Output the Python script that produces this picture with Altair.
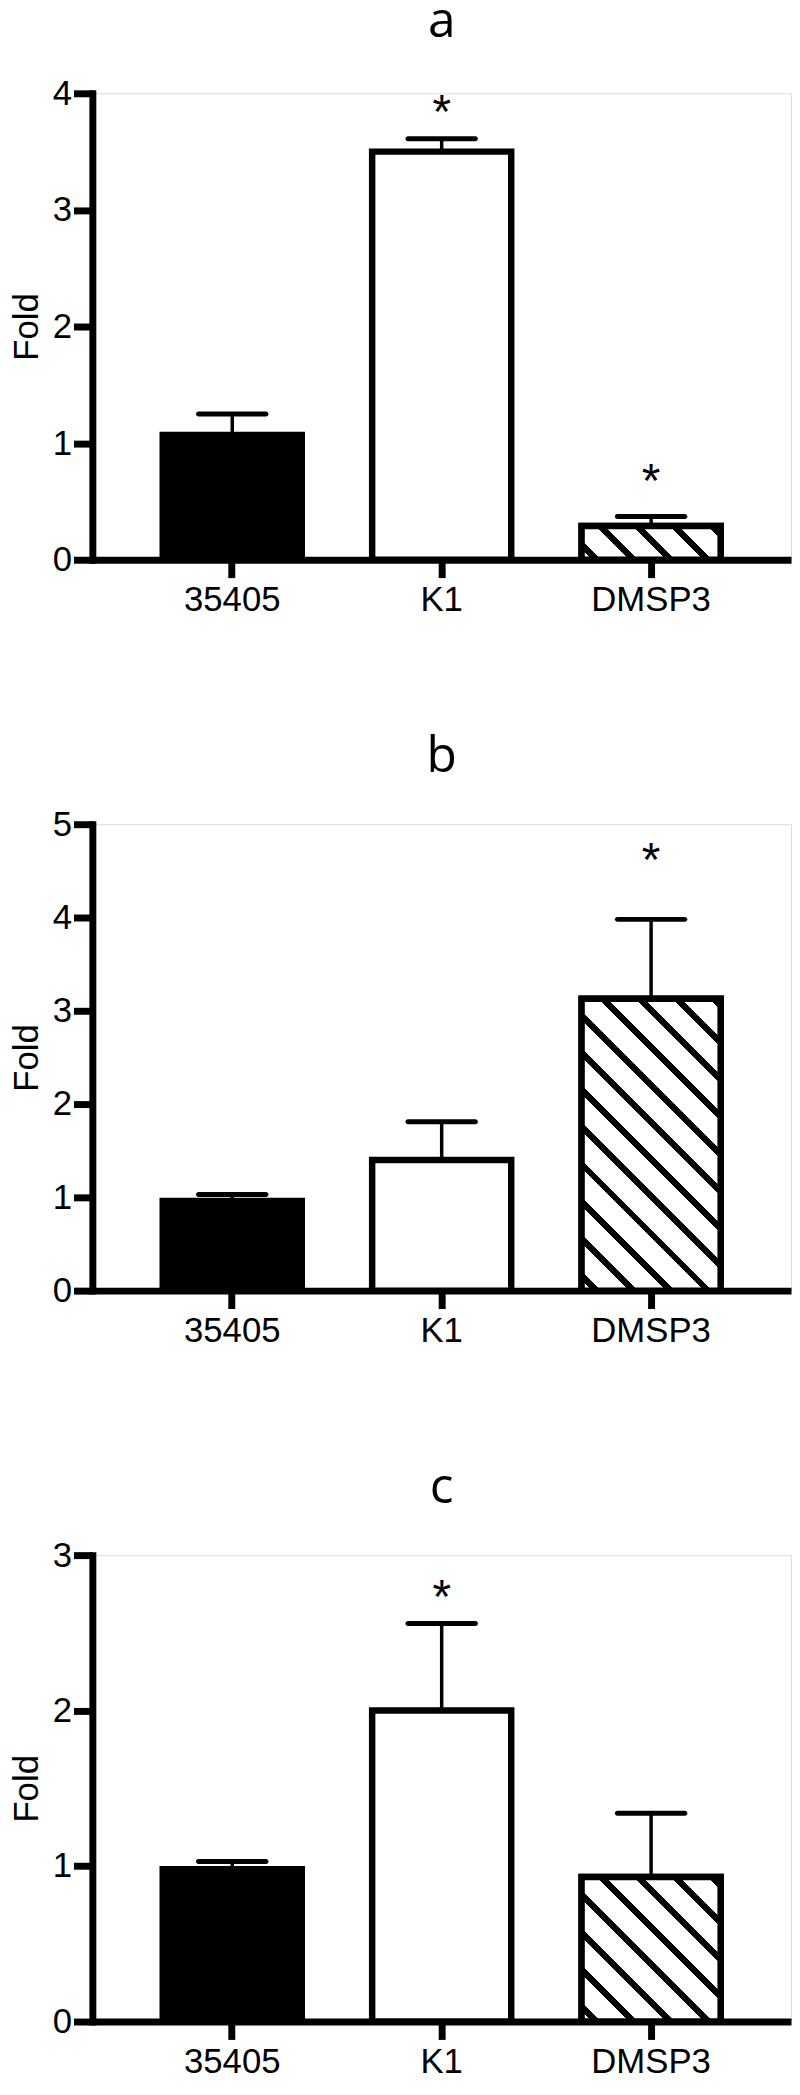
import math
import altair as alt
import pandas as pd

# ---------------- data ----------------
categories = ["35405", "K1", "DMSP3"]
fills = ["black", "white", "white"]

a_mean = [1.07, 3.50, 0.29]
a_err = [0.18, 0.11, 0.08]
a_star = [None, 3.91, 0.74]

b_mean = [0.96, 1.40, 3.13]
b_err = [0.07, 0.41, 0.85]
b_star = [None, None, 4.70]

c_mean = [0.98, 2.00, 0.93]
c_err = [0.05, 0.56, 0.41]
c_star = [None, 2.78, None]

panel_letters = ["a", "b", "c"]
y_max = [4, 5, 3]

# ---------------- layout / style ----------------
W = 704
H = 470
PI = 0.336
PO = 0.336
STEP = W / (3 - PI + 2 * PO)
BANDW = STEP * (1 - PI)
LABEL_FONT = "Liberation Sans"
TITLE_FONT = "Open Sans"


def hatch_gradient(bar_h, bar_w=BANDW, period=37.5, thick=9.0, phase=15.0):
    L = bar_w + bar_h
    d = bar_w * bar_w + bar_h * bar_h
    x2 = bar_w * L / d
    y2 = 1 - bar_h * L / d
    segs = []
    c = phase - period * math.ceil((phase + thick) / period)
    while c - thick / 2 < L:
        a = max(0.0, (c - thick / 2) / L)
        b = min(1.0, (c + thick / 2) / L)
        if b > 0 and a < 1 and b > a:
            segs.append((a, b))
        c += period
    stops = []
    prev = 0.0
    for a, b in segs:
        if a > prev:
            stops += [(prev, "white"), (a, "white")]
        stops += [(a, "black"), (b, "black")]
        prev = b
    if prev < 1:
        stops += [(prev, "white"), (1.0, "white")]
    return alt.LinearGradient(
        gradient="linear",
        x1=0, y1=1, x2=x2, y2=y2,
        stops=[alt.GradientStop(offset=o, color=col) for o, col in stops],
    )


def panel(letter, mean, err, star, ymax, title_offset):
    df = pd.DataFrame({"cat": categories, "mean": mean, "err": err, "star": star})
    base = alt.Chart(df).transform_calculate(upper="datum.mean + datum.err")

    x_axis = alt.Axis(
        title=None, labelAngle=0, labelFont=LABEL_FONT, labelFontSize=35,
        labelColor="black", labelPadding=5, tickSize=18, tickWidth=7,
        tickColor="black", domainWidth=7, domainColor="black", grid=False,
    )
    y_axis = alt.Axis(
        values=list(range(ymax + 1)), title="Fold", labelFont=LABEL_FONT,
        labelFontSize=35, labelColor="black", labelPadding=2, tickSize=19,
        tickWidth=7, tickColor="black", domainWidth=7, domainColor="black",
        domainCap="square", grid=False, titleFont=LABEL_FONT, titleFontSize=35,
        titleFontWeight="normal", titleColor="black", titlePadding=8,
    )
    x = alt.X("cat:N", sort=categories,
              scale=alt.Scale(paddingInner=PI, paddingOuter=PO), axis=x_axis)
    yscale = alt.Scale(domain=[0, ymax], nice=False, zero=True)

    def y(field):
        return alt.Y(field, scale=yscale, axis=y_axis, title="Fold")

    bars = base.mark_bar(stroke="black", strokeWidth=6.5).encode(
        x=x, y=y("mean:Q"),
        fill=alt.Fill("cat:N", scale=alt.Scale(domain=categories, range=fills), legend=None),
    )
    hatch_h = mean[2] / ymax * H
    hatched = base.transform_filter(alt.datum.cat == "DMSP3").mark_bar(
        stroke="black", strokeWidth=6.5, fill=hatch_gradient(hatch_h)
    ).encode(x=x, y=y("mean:Q"))
    stem = base.mark_rule(color="black", strokeWidth=3.5).encode(
        x=x, y=y("mean:Q"), y2="upper:Q")
    cap = base.mark_tick(color="black", thickness=5, size=73, cornerRadius=2.5, opacity=1).encode(
        x=x, y=y("upper:Q"))
    stars = base.transform_filter("datum.star != null").mark_text(
        text="*", font=LABEL_FONT, fontSize=48, baseline="middle", color="black", dy=10
    ).encode(x=x, y=y("star:Q"))

    return alt.layer(stem, cap, bars, hatched, stars).properties(
        width=W, height=H,
        title=alt.TitleParams(
            text=letter, font=TITLE_FONT, fontSize=50, fontWeight="normal",
            color="black", anchor="middle", frame="group", baseline="alphabetic",
            offset=title_offset,
        ),
    )


chart = alt.vconcat(
    panel(panel_letters[0], a_mean, a_err, a_star, y_max[0], -10.5),
    panel(panel_letters[1], b_mean, b_err, b_star, y_max[1], -14),
    panel(panel_letters[2], c_mean, c_err, c_star, y_max[2], -14),
    spacing=266.5, bounds="flush",
).properties(
    padding={"left": 1, "top": -19, "right": 0, "bottom": 0}
).configure_view(stroke=None).configure(background="white")

chart.save("out.html", embed_options={"renderer": "svg", "actions": False})
